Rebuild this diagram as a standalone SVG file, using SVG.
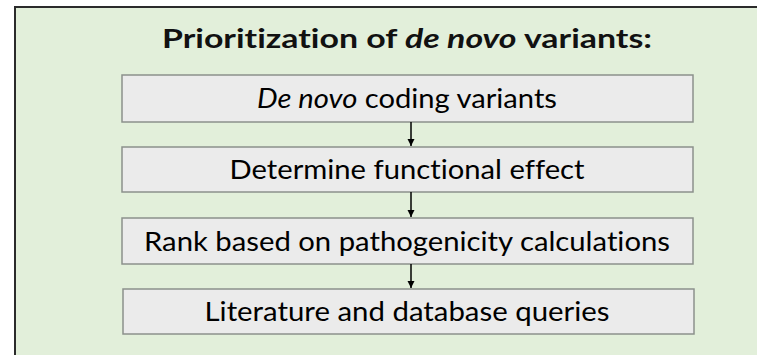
<svg xmlns="http://www.w3.org/2000/svg" width="757" height="355" viewBox="0 0 757 355">
  <style>
    .panel { fill: #e2efda; stroke: #2b2b2b; stroke-width: 2; }
    .step rect { fill: #ebebeb; stroke: #8c918c; stroke-width: 1.5; }
    text { font-variant-ligatures: none; font-feature-settings: "liga" 0; }
    .step text { font-family: Lato, "Open Sans", "Liberation Sans", sans-serif; font-size: 27.5px; fill: #000; text-anchor: middle; }
    .title { font-family: Lato, "Open Sans", "Liberation Sans", sans-serif; font-size: 26.5px; font-weight: bold; fill: #111; text-anchor: middle; }
    .flow line { stroke: #000; stroke-width: 1.5; marker-end: url(#head); }
  </style>
  <defs>
    <marker id="head" markerWidth="8" markerHeight="8" refX="7" refY="4" orient="auto" markerUnits="userSpaceOnUse">
      <path d="M0,0.5 L7,4 L0,7.5 Z" fill="#000"/>
    </marker>
  </defs>

  <!-- light green panel, running off the right and bottom edges -->
  <rect class="panel" x="15" y="7" width="800" height="400"/>

  <text class="title" x="407" y="48" textLength="490" lengthAdjust="spacingAndGlyphs">Prioritization of <tspan font-style="italic">de novo</tspan> variants:</text>

  <g id="step1" class="step">
    <rect x="122" y="75" width="571" height="47"/>
    <text x="407" y="107.5" textLength="300" lengthAdjust="spacingAndGlyphs"><tspan font-style="italic">De novo</tspan> coding variants</text>
  </g>
  <g id="step2" class="step">
    <rect x="122" y="147" width="571" height="45"/>
    <text x="407" y="179" textLength="355" lengthAdjust="spacingAndGlyphs">Determine functional effect</text>
  </g>
  <g id="step3" class="step">
    <rect x="122" y="218" width="571" height="46"/>
    <text x="407" y="250.5" textLength="526" lengthAdjust="spacingAndGlyphs">Rank based on pathogenicity calculations</text>
  </g>
  <g id="step4" class="step">
    <rect x="123" y="289" width="571" height="45"/>
    <text x="407" y="321" textLength="405" lengthAdjust="spacingAndGlyphs">Literature and database queries</text>
  </g>

  <g id="connectors" class="flow">
    <line x1="411" y1="122" x2="411" y2="146"/>
    <line x1="411" y1="192" x2="411" y2="217"/>
    <line x1="411" y1="264" x2="411" y2="288"/>
  </g>
</svg>
